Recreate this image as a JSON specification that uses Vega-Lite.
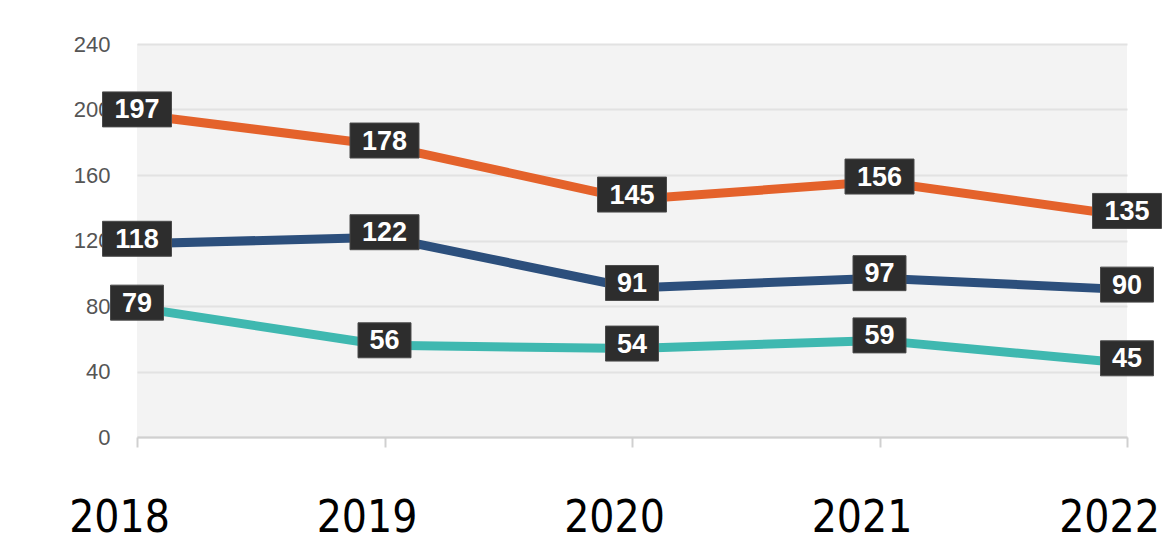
{
  "$schema": "https://vega.github.io/schema/vega-lite/v6.json",
  "width": 990,
  "height": 393,
  "autosize": "none",
  "padding": {"left": 137, "right": 38, "top": 44, "bottom": 104},
  "background": "white",
  "config": {
    "view": {"fill": "#f3f3f3", "stroke": null}
  },
  "data": {
    "values": [
      {"year": "2018", "series": "Top", "value": 197},
      {"year": "2019", "series": "Top", "value": 178},
      {"year": "2020", "series": "Top", "value": 145},
      {"year": "2021", "series": "Top", "value": 156},
      {"year": "2022", "series": "Top", "value": 135},
      {"year": "2018", "series": "Middle", "value": 118},
      {"year": "2019", "series": "Middle", "value": 122},
      {"year": "2020", "series": "Middle", "value": 91},
      {"year": "2021", "series": "Middle", "value": 97},
      {"year": "2022", "series": "Middle", "value": 90},
      {"year": "2018", "series": "Bottom", "value": 79},
      {"year": "2019", "series": "Bottom", "value": 56},
      {"year": "2020", "series": "Bottom", "value": 54},
      {"year": "2021", "series": "Bottom", "value": 59},
      {"year": "2022", "series": "Bottom", "value": 45}
    ]
  },
  "encoding": {
    "x": {
      "field": "year",
      "type": "ordinal",
      "scale": {"type": "point", "padding": 0},
      "axis": {
        "title": null,
        "labelAngle": 0,
        "labelFont": "DejaVu Sans Condensed, sans-serif",
        "labelFontSize": 44,
        "labelColor": "#000000",
        "labelBaseline": "middle",
        "labelPadding": 71,
        "labelOffset": -18,
        "domainColor": "#d0d0d0",
        "domainWidth": 2,
        "tickColor": "#d0d0d0",
        "tickSize": 10,
        "tickWidth": 2,
        "grid": false
      }
    },
    "y": {
      "field": "value",
      "type": "quantitative",
      "scale": {"domain": [0, 240], "nice": false, "zero": true},
      "axis": {
        "title": null,
        "values": [0, 40, 80, 120, 160, 200, 240],
        "labelFont": "Liberation Sans, Arial, sans-serif",
        "labelFontSize": 22,
        "labelColor": "#555555",
        "labelPadding": 27,
        "tickSize": 0,
        "domain": false,
        "grid": true,
        "gridColor": "#e2e2e2",
        "gridWidth": 2
      }
    }
  },
  "layer": [
    {
      "mark": {"type": "line", "strokeWidth": 9, "strokeCap": "butt", "strokeJoin": "round"},
      "encoding": {
        "color": {
          "field": "series",
          "type": "nominal",
          "scale": {"domain": ["Top", "Middle", "Bottom"], "range": ["#e4622b", "#2c4f7c", "#3fb8b0"]},
          "legend": null
        }
      }
    },
    {
      "mark": {"type": "point", "filled": true, "opacity": 1, "fill": "#2d2d2d", "stroke": "#4a4a4a", "strokeWidth": 1, "size": 4761},
      "encoding": {
        "shape": {
          "condition": {"test": "datum.value >= 100", "value": "M-1,-0.507L1,-0.507L1,0.507L-1,0.507Z"},
          "value": "M-0.768,-0.507L0.768,-0.507L0.768,0.507L-0.768,0.507Z"
        },
        "yOffset": {"value": -5}
      }
    },
    {
      "mark": {"type": "text", "font": "Liberation Sans, Arial, sans-serif", "fontSize": 27, "fontWeight": "bold", "color": "#ffffff", "baseline": "middle", "align": "center", "dy": 1},
      "encoding": {
        "text": {"field": "value", "type": "quantitative"},
        "yOffset": {"value": -5}
      }
    }
  ]
}
